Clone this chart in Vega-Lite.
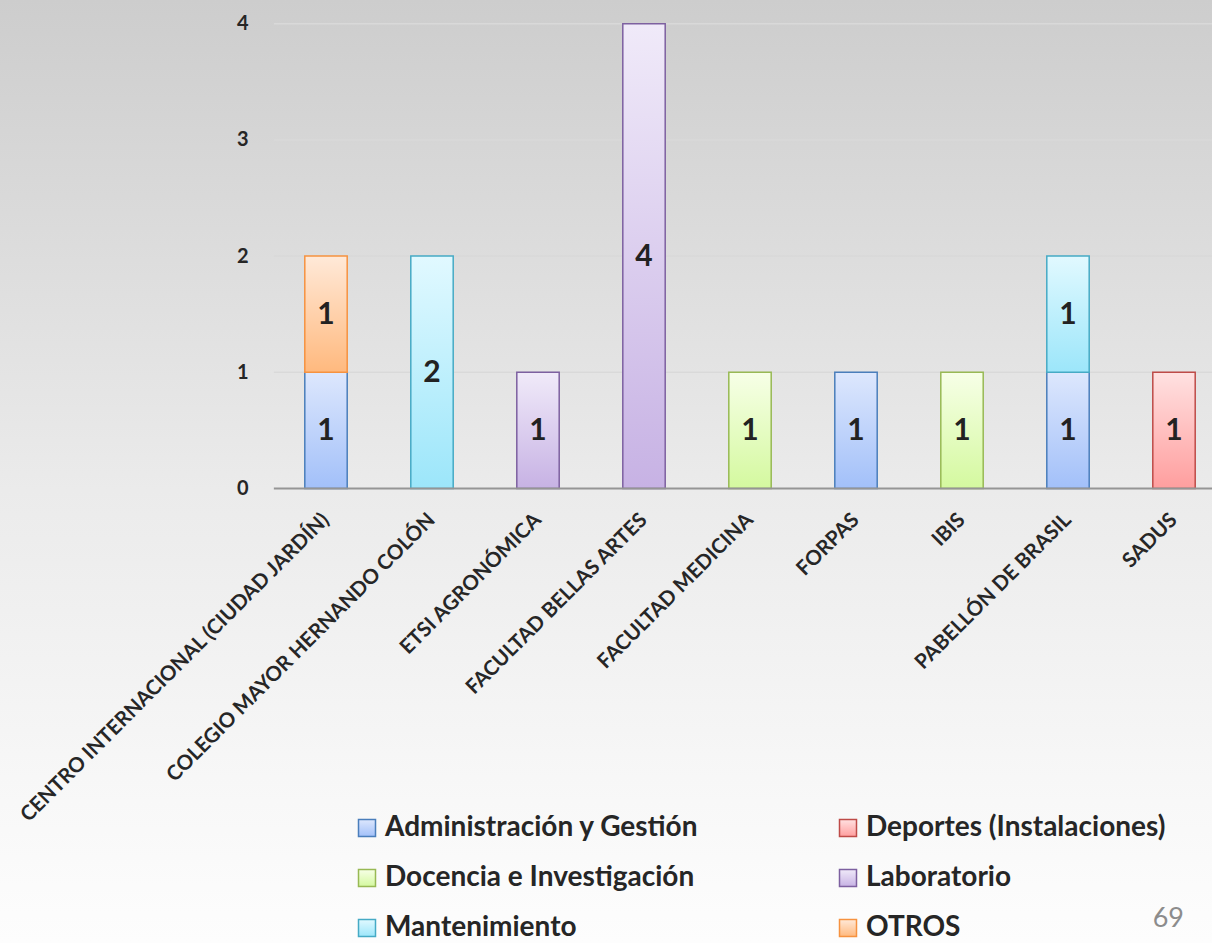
{
  "$schema": "https://vega.github.io/schema/vega-lite/v6.json",
  "width": 1212,
  "height": 943,
  "autosize": "none",
  "padding": 0,
  "background": "#e8e8e8",
  "config": {
    "font": "Lato",
    "view": {
      "stroke": null,
      "fill": {"gradient": "linear", "x1": 0, "y1": 0, "x2": 0, "y2": 1,
        "stops": [{"offset": 0, "color": "#cdcdcd"}, {"offset": 0.52, "color": "#ebebeb"}, {"offset": 0.85, "color": "#f8f8f8"}, {"offset": 1, "color": "#fdfdfd"}]}
    }
  },
  "title": {"text": "69", "orient": "bottom", "anchor": "end", "offset": -37, "dx": -29, "fontSize": 27, "font": "Lato", "fontWeight": "normal", "color": "#8c8c8c", "baseline": "top"},
  "data": {
    "values": [
      {"lugar": "CENTRO INTERNACIONAL (CIUDAD JARDÍN)", "cat": "Administración y Gestión", "n": 1},
      {"lugar": "CENTRO INTERNACIONAL (CIUDAD JARDÍN)", "cat": "OTROS", "n": 1},
      {"lugar": "COLEGIO MAYOR HERNANDO COLÓN", "cat": "Mantenimiento", "n": 2},
      {"lugar": "ETSI AGRONÓMICA", "cat": "Laboratorio", "n": 1},
      {"lugar": "FACULTAD BELLAS ARTES", "cat": "Laboratorio", "n": 4},
      {"lugar": "FACULTAD MEDICINA", "cat": "Docencia e Investigación", "n": 1},
      {"lugar": "FORPAS", "cat": "Administración y Gestión", "n": 1},
      {"lugar": "IBIS", "cat": "Docencia e Investigación", "n": 1},
      {"lugar": "PABELLÓN DE BRASIL", "cat": "Administración y Gestión", "n": 1},
      {"lugar": "PABELLÓN DE BRASIL", "cat": "Mantenimiento", "n": 1},
      {"lugar": "SADUS", "cat": "Deportes (Instalaciones)", "n": 1}
    ]
  },
  "layer": [
    {
      "data": {"values": [{}]},
      "mark": {"type": "rule", "color": "#d9d9d9", "strokeWidth": 1.5},
      "encoding": {
        "x": {"datum": "CENTRO INTERNACIONAL (CIUDAD JARDÍN)", "type": "nominal", "bandPosition": -0.73},
        "x2": {"value": "width"},
        "y": {"datum": 1, "type": "quantitative"}
      }
    },
    {
      "data": {"values": [{}]},
      "mark": {"type": "rule", "color": "#d9d9d9", "strokeWidth": 1.5},
      "encoding": {
        "x": {"datum": "CENTRO INTERNACIONAL (CIUDAD JARDÍN)", "type": "nominal", "bandPosition": -0.73},
        "x2": {"value": "width"},
        "y": {"datum": 2, "type": "quantitative"}
      }
    },
    {
      "data": {"values": [{}]},
      "mark": {"type": "rule", "color": "#d9d9d9", "strokeWidth": 1.5},
      "encoding": {
        "x": {"datum": "CENTRO INTERNACIONAL (CIUDAD JARDÍN)", "type": "nominal", "bandPosition": -0.73},
        "x2": {"value": "width"},
        "y": {"datum": 3, "type": "quantitative"}
      }
    },
    {
      "data": {"values": [{}]},
      "mark": {"type": "rule", "color": "#d9d9d9", "strokeWidth": 1.5},
      "encoding": {
        "x": {"datum": "CENTRO INTERNACIONAL (CIUDAD JARDÍN)", "type": "nominal", "bandPosition": -0.73},
        "x2": {"value": "width"},
        "y": {"datum": 4, "type": "quantitative"}
      }
    },
    {
      "mark": {"type": "bar", "strokeWidth": 1.5},
      "encoding": {
        "x": {
          "field": "lugar", "type": "nominal", "sort": null,
          "scale": {"range": [273, 1227], "paddingInner": 0.6, "paddingOuter": 0.3, "align": 0.5},
          "axis": {"title": null, "orient": "bottom", "offset": -454.5, "labelAngle": -45, "labelAlign": "right", "labelBaseline": "middle", "labelPadding": 28, "ticks": false, "tickSize": 0, "domain": false, "grid": false, "labelFont": "Lato", "labelFontWeight": "bold", "labelFontSize": 20.5, "labelColor": "#262626", "labelLimit": 700, "labelOverlap": false}
        },
        "y": {
          "field": "n", "type": "quantitative", "stack": "zero",
          "scale": {"domain": [-3.911, 4.204], "nice": false, "zero": false},
          "axis": {"title": null, "orient": "left", "offset": -250, "values": [0, 1, 2, 3, 4], "format": "d", "grid": false, "domain": false, "ticks": false, "tickSize": 0, "labelPadding": 2, "labelFont": "Lato", "labelFontWeight": "bold", "labelFontSize": 20, "labelColor": "#262626"}
        },
        "order": {"field": "cat", "sort": "ascending"},
        "fill": {
          "field": "cat", "type": "nominal",
          "scale": {
            "domain": ["Administración y Gestión", "Docencia e Investigación", "Mantenimiento", "Deportes (Instalaciones)", "Laboratorio", "OTROS"],
            "range": [
              {"expr": "{gradient:'linear',x1:0,y1:0,x2:0,y2:1,stops:[{offset:0,color:'#dde7fd'},{offset:1,color:'#a2c0f9'}]}"},
              {"expr": "{gradient:'linear',x1:0,y1:0,x2:0,y2:1,stops:[{offset:0,color:'#f7ffe7'},{offset:1,color:'#d4f99f'}]}"},
              {"expr": "{gradient:'linear',x1:0,y1:0,x2:0,y2:1,stops:[{offset:0,color:'#e1f9ff'},{offset:1,color:'#9ce6fa'}]}"},
              {"expr": "{gradient:'linear',x1:0,y1:0,x2:0,y2:1,stops:[{offset:0,color:'#ffe1e1'},{offset:1,color:'#ff9e9e'}]}"},
              {"expr": "{gradient:'linear',x1:0,y1:0,x2:0,y2:1,stops:[{offset:0,color:'#f0eaf9'},{offset:1,color:'#c7b2e4'}]}"},
              {"expr": "{gradient:'linear',x1:0,y1:0,x2:0,y2:1,stops:[{offset:0,color:'#ffe9d8'},{offset:1,color:'#ffb97e'}]}"}
            ]
          },
          "legend": {"title": null, "orient": "none", "legendX": 353, "legendY": 814, "columns": 2, "columnPadding": 135, "rowPadding": 22, "symbolType": "square", "symbolSize": 289, "symbolStrokeWidth": 1.5, "labelFont": "Lato", "labelFontWeight": "bold", "labelFontSize": 28, "labelColor": "#262626", "labelLimit": 600, "labelOffset": 4}
        },
        "stroke": {
          "field": "cat", "type": "nominal",
          "scale": {
            "domain": ["Administración y Gestión", "Docencia e Investigación", "Mantenimiento", "Deportes (Instalaciones)", "Laboratorio", "OTROS"],
            "range": ["#4a7ebb", "#98b954", "#46aac5", "#be4b48", "#7d60a0", "#f69240"]
          },
          "legend": {"title": null, "orient": "none", "legendX": 353, "legendY": 814, "columns": 2, "columnPadding": 135, "rowPadding": 22, "symbolType": "square", "symbolSize": 289, "symbolStrokeWidth": 1.5, "labelFont": "Lato", "labelFontWeight": "bold", "labelFontSize": 28, "labelColor": "#262626", "labelLimit": 600, "labelOffset": 4}
        }
      }
    },
    {
      "mark": {"type": "text", "font": "Lato", "fontWeight": "bold", "fontSize": 30, "color": "#222222", "baseline": "middle", "align": "center", "dy": 1},
      "encoding": {
        "x": {"field": "lugar", "type": "nominal", "sort": null},
        "y": {"field": "n", "type": "quantitative", "stack": "zero", "bandPosition": 0.5},
        "order": {"field": "cat", "sort": "ascending"},
        "detail": {"field": "cat", "type": "nominal"},
        "text": {"field": "n", "type": "quantitative"}
      }
    },
    {
      "data": {"values": [{}]},
      "mark": {"type": "rule", "color": "#959595", "strokeWidth": 2},
      "encoding": {
        "x": {"datum": "CENTRO INTERNACIONAL (CIUDAD JARDÍN)", "type": "nominal", "bandPosition": -0.73},
        "x2": {"value": "width"},
        "y": {"datum": 0, "type": "quantitative"}
      }
    }
  ]
}
